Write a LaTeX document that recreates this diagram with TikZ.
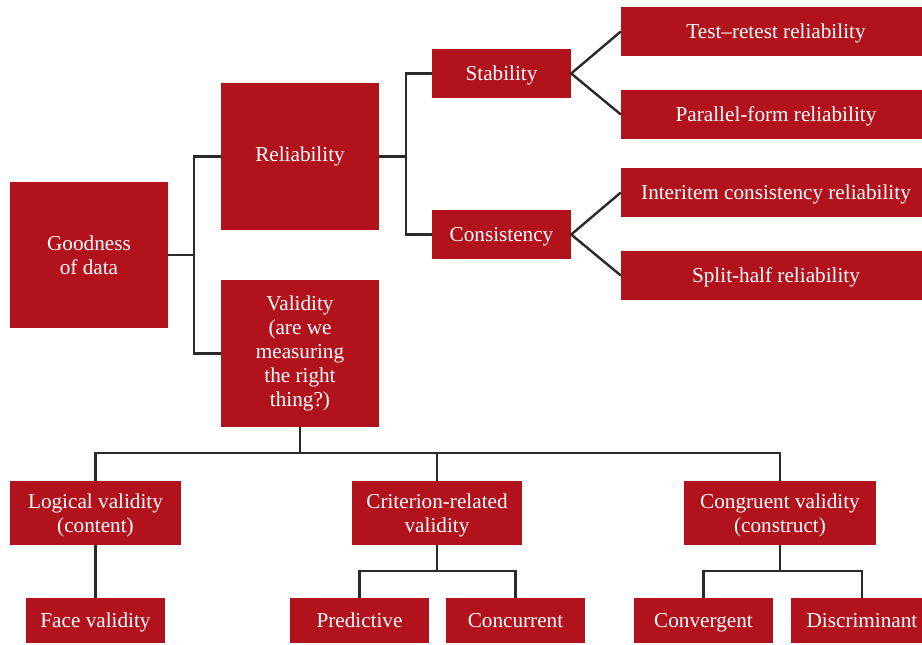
\documentclass[tikz,border=0pt]{standalone}
\usepackage{fontspec}
\setmainfont{Liberation Serif}
\definecolor{boxred}{HTML}{B2121C}
\definecolor{linegray}{HTML}{2B2A2B}
\begin{document}
\begin{tikzpicture}[x=1pt,y=-1pt,
  box/.style={fill=boxred,text=white,inner sep=0pt,align=center,
    font=\fontsize{21.2}{24}\selectfont},
  lo/.style={text depth=0pt},
  conn/.style={draw=linegray,line width=2.4pt}]
\clip (0,0) rectangle (922,645);
\fill[white] (0,0) rectangle (922,645);
% nodes
\node[box,minimum width=158pt,minimum height=146pt] (good) at (89,255) {Goodness\\of data};
\node[box,minimum width=158pt,minimum height=147pt] (rel) at (300,156.5) {Reliability};
\node[box,minimum width=158pt,minimum height=147pt] (val) at (300,353.5) {Validity\\(are we\\measuring\\the right\\thing?)};
\node[box,lo,minimum width=139pt,minimum height=49pt] (stab) at (501.5,73.5) {Stability};
\node[box,lo,minimum width=139pt,minimum height=49pt] (cons) at (501.5,234.5) {Consistency};
\node[box,lo,minimum width=310pt,minimum height=49pt] (test) at (776,31.5) {Test–retest reliability};
\node[box,lo,minimum width=310pt,minimum height=49pt] (par) at (776,114.5) {Parallel-form reliability};
\node[box,lo,minimum width=310pt,minimum height=49pt] (inter) at (776,192.5) {Interitem consistency reliability};
\node[box,lo,minimum width=310pt,minimum height=49pt] (split) at (776,275.5) {Split-half reliability};
\node[box,lo,minimum width=171pt,minimum height=64pt] (logic) at (95.5,513) {Logical validity\\(content)};
\node[box,lo,minimum width=170pt,minimum height=64pt] (crit) at (437,513) {Criterion-related\\validity};
\node[box,lo,minimum width=192pt,minimum height=64pt] (cong) at (780,513) {Congruent validity\\(construct)};
\node[box,lo,minimum width=139pt,minimum height=45pt] (face) at (95.5,620.5) {Face validity};
\node[box,lo,minimum width=139pt,minimum height=45pt] (pred) at (359.5,620.5) {Predictive};
\node[box,lo,minimum width=139pt,minimum height=45pt] (conc) at (515.5,620.5) {Concurrent};
\node[box,lo,minimum width=139pt,minimum height=45pt] (conv) at (703.5,620.5) {Convergent};
\node[box,lo,minimum width=142pt,minimum height=45pt] (disc) at (862,620.5) {Discriminant};
% connectors
\coordinate (j1) at (194,255);
\coordinate (j2) at (406,156);
\draw[conn] (good.east) -- (j1);
\draw[conn] (rel.west) -- (rel.west -| j1) |- (val.west);
\draw[conn] (rel.east) -- (rel.east -| j2);
\draw[conn] (stab.west) -- (stab.west -| j2) |- (cons.west);
\draw[conn] (test.west) -- (stab.east) -- (par.west);
\draw[conn] (inter.west) -- (cons.east) -- (split.west);
\draw[conn] (val.south) -- ++(0,26);
\draw[conn] (logic.north) -- ++(0,-28) -| (cong.north);
\draw[conn] (crit.north) -- ++(0,-28);
\draw[conn] (logic.south) -- (face.north);
\draw[conn] (crit.south) -- ++(0,26);
\draw[conn] (pred.north) -- ++(0,-27) -| (conc.north);
\draw[conn] (cong.south) -- ++(0,26);
\draw[conn] (conv.north) -- ++(0,-27) -| (disc.north);
\end{tikzpicture}
\end{document}
